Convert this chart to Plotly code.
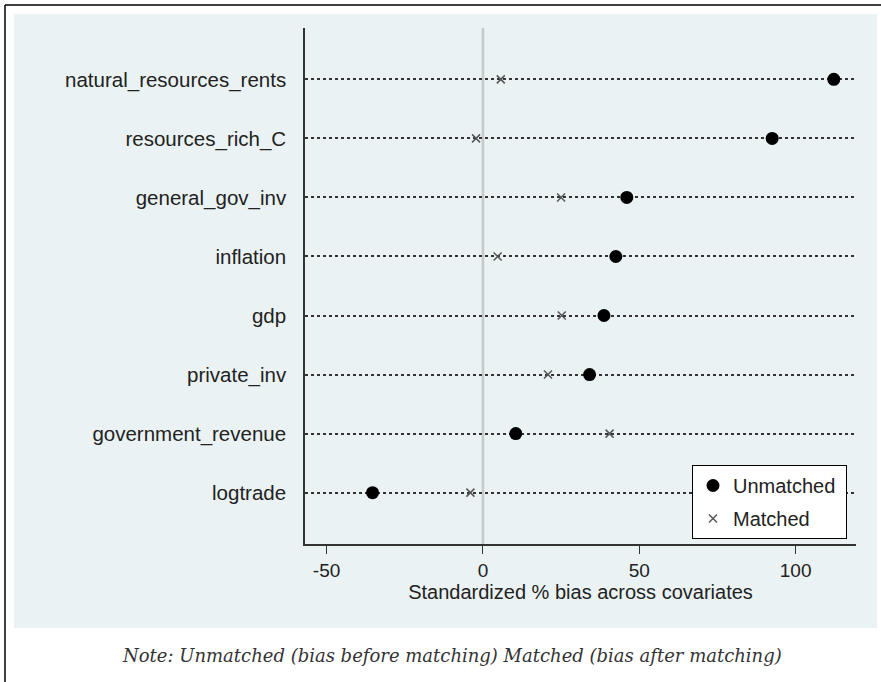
import plotly.graph_objects as go

# ---- data (top = first) ----
categories = ["natural_resources_rents", "resources_rich_C", "general_gov_inv",
              "inflation", "gdp", "private_inv", "government_revenue", "logtrade"]
unmatched = [112.2, 92.5, 46.0, 42.5, 38.7, 34.1, 10.5, -35.3]
matched = [5.7, -2.2, 25.0, 4.7, 25.2, 20.8, 40.5, -4.0]
x_ticks = [-50, 0, 50, 100]
x_tick_labels = ["-50", "0", "50", "100"]
legend_names = ["Unmatched", "Matched"]

n = len(categories)
ypos = [n - i for i in range(n)]  # category positions, top row highest

# ---- layout geometry (pixels) ----
W, H = 881, 682
L, R, T, B = 305, 856, 28, 544
def px(x):
    return (x - L) / (R - L)
def py(y):
    return (B - y) / (B - T)

FONT = "Liberation Sans, Arial, sans-serif"
PAD = "\u00a0"

fig = go.Figure()
fig.add_trace(go.Scatter(
    x=unmatched, y=ypos, mode="markers", name=legend_names[0] + PAD,
    legendgroup="u",
    marker=dict(symbol="circle", size=13, color="black"),
))
fig.add_trace(go.Scatter(
    x=matched, y=ypos, mode="markers", name=legend_names[1] + PAD,
    legendgroup="m",
    marker=dict(symbol="x-thin", size=8, color="#555555",
                line=dict(width=1.5, color="#555555")),
))

shapes = [
    # outer light panel
    dict(type="rect", xref="paper", yref="paper",
         x0=px(14), x1=px(877), y0=py(628), y1=py(14),
         fillcolor="#EAF2F3", line=dict(width=0), layer="below"),
    # outer frame (left and top edges)
    dict(type="line", xref="paper", yref="paper",
         x0=px(5), x1=px(5), y0=py(5), y1=py(700),
         line=dict(color="black", width=1.5), layer="below"),
    dict(type="line", xref="paper", yref="paper",
         x0=px(5), x1=px(900), y0=py(5), y1=py(5),
         line=dict(color="black", width=1.5), layer="below"),
    # zero reference line
    dict(type="line", xref="x", yref="paper", x0=0, x1=0, y0=0, y1=1,
         line=dict(color="#C8C8C8", width=2.5), layer="below"),
]

fig.update_layout(
    width=W, height=H,
    margin=dict(l=L, r=W - R, t=T, b=H - B),
    paper_bgcolor="white",
    plot_bgcolor="white",
    font=dict(family=FONT, size=20, color="#222222"),
    shapes=shapes,
    showlegend=True,
    legend=dict(
        x=px(692), y=py(465), xanchor="left", yanchor="top",
        bgcolor="white", bordercolor="black", borderwidth=1,
        font=dict(family=FONT, size=20, color="#222222"),
        traceorder="grouped", tracegroupgap=4, itemwidth=30,
    ),
    xaxis=dict(
        range=[-56.9, 119.3],
        tickmode="array", tickvals=x_ticks, ticktext=x_tick_labels,
        ticks="outside", ticklen=8, tickwidth=1.2, tickcolor="#333333",
        showline=True, linecolor="#333333", linewidth=1.5,
        showgrid=False, zeroline=False,
        tickfont=dict(family=FONT, size=19, color="#222222"),
        title=dict(text="Standardized % bias across covariates",
                   font=dict(family=FONT, size=20, color="#222222"),
                   standoff=2),
    ),
    yaxis=dict(
        range=[0.13, n + 0.87],
        tickmode="array", tickvals=ypos, ticktext=categories,
        ticks="outside", ticklen=13, tickcolor="rgba(0,0,0,0)",
        showline=True, linecolor="#333333", linewidth=1.5,
        showgrid=True, gridcolor="#333333", gridwidth=1.5, griddash="dot",
        zeroline=False,
        tickfont=dict(family=FONT, size=20.5, color="#222222"),
    ),
    annotations=[
        dict(text="<i>Note: Unmatched (bias before matching) Matched (bias after matching)</i>",
             xref="paper", yref="paper", x=px(120), y=py(655),
             xanchor="left", yanchor="middle", showarrow=False,
             font=dict(family="DejaVu Serif, serif", size=18, color="#333333")),
    ],
)

fig.write_html("out.html", config={"displayModeBar": False},
               post_script="document.body.style.margin='0';")
